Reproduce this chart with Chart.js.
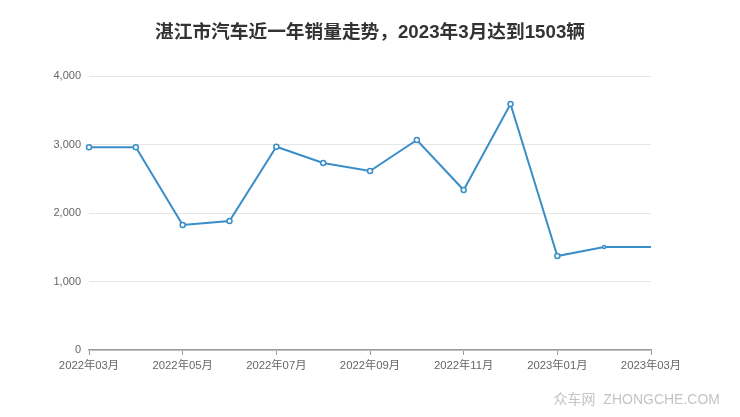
<!DOCTYPE html>
<html>
<head>
<meta charset="utf-8">
<script src="https://cdn.jsdelivr.net/npm/chart.js@4.4.0/dist/chart.umd.min.js"></script>
<style>
  html, body { margin: 0; padding: 0; background: #fff; }
  #wrap { width: 740px; height: 417px; }
</style>
</head>
<body>
<div id="wrap"><canvas id="salesChart"></canvas></div>
<script>
const months = ['2022年03月', '2022年04月', '2022年05月', '2022年06月', '2022年07月', '2022年08月',
  '2022年09月', '2022年10月', '2022年11月', '2022年12月', '2023年01月', '2023年02月', '2023年03月'];
const sales = [2960, 2960, 1825, 1883, 2968, 2730, 2613, 3066, 2336, 3591, 1372, 1503, 1503];
const yTicks = [0, 1000, 2000, 3000, 4000];
const titleText = '湛江市汽车近一年销量走势，2023年3月达到1503辆';

const FONT = '"Liberation Sans", "Noto Sans CJK SC", sans-serif';

// title centred on the whole canvas, watermark bottom right
const decorations = {
  id: 'decorations',
  afterDraw(chart) {
    const ctx = chart.ctx;
    ctx.save();
    ctx.font = 'bold 18.7px ' + FONT;
    ctx.fillStyle = '#333';
    ctx.textAlign = 'center';
    ctx.textBaseline = 'middle';
    ctx.fillText(titleText, chart.width / 2, 33);

    ctx.font = '14px ' + FONT;
    ctx.fillStyle = '#c4c4c4';
    ctx.textAlign = 'right';
    ctx.fillText('众车网  ZHONGCHE.COM', 720, 400);
    ctx.restore();
  }
};

const ctx = document.getElementById('salesChart').getContext('2d');
new Chart(ctx, {
  type: 'line',
  data: {
    labels: months,
    datasets: [{
      label: '销量',
      data: sales,
      borderColor: '#3a8ec8',
      borderWidth: 2,
      backgroundColor: '#ffffff',
      pointBackgroundColor: '#ffffff',
      pointBorderColor: '#3a8ec8',
      pointBorderWidth: 1.5,
      pointRadius: sales.map((v, i) => i === sales.length - 1 ? 0 : (i === sales.length - 2 ? 1.5 : 2.5)),
      tension: 0,
      fill: false
    }]
  },
  options: {
    responsive: true,
    maintainAspectRatio: false,
    animation: false,
    layout: { padding: { left: 0, right: 89, top: 76, bottom: 0 } },
    plugins: {
      legend: { display: false },
      tooltip: { enabled: false },
      title: { display: false }
    },
    scales: {
      x: {
        offset: false,
        afterBuildTicks(scale) {
          scale.ticks = scale.ticks.filter((t, i) => i % 2 === 0);
        },
        afterFit(scale) { scale.height = 67; },
        grid: { drawOnChartArea: false, drawTicks: true, tickLength: 5, tickColor: '#999' },
        border: { color: '#999', width: 1.5 },
        ticks: {
          autoSkip: false,
          maxRotation: 0,
          padding: 4,
          color: '#666',
          font: { family: FONT, size: 11.3 }
        }
      },
      y: {
        min: 0,
        max: 4000,
        afterFit(scale) { scale.width = 89; },
        afterBuildTicks(scale) {
          scale.ticks = yTicks.map(v => ({ value: v }));
        },
        grid: { color: '#e6e6e6', drawTicks: false },
        border: { display: false },
        ticks: {
          padding: 8,
          color: '#666',
          font: { family: FONT, size: 11 },
          callback: v => v.toLocaleString('en-US')
        }
      }
    }
  },
  plugins: [decorations]
});
</script>
</body>
</html>
